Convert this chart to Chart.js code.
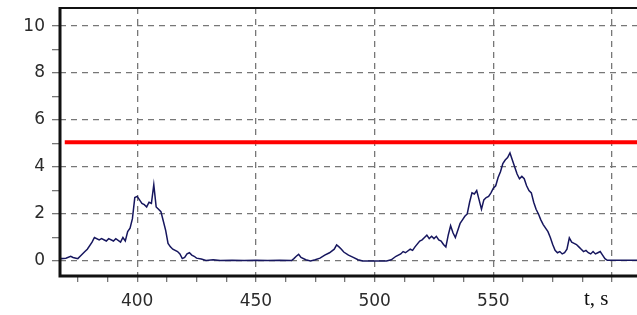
<!DOCTYPE html>
<html>
<head>
<meta charset="utf-8">
<script src="https://cdn.jsdelivr.net/npm/chart.js@4/dist/chart.umd.min.js"></script>
<style>
  html, body { margin: 0; padding: 0; background: #fff; }
  #wrap { width: 637px; height: 315px; }
</style>
</head>
<body>
<div id="wrap"><canvas id="grafica" width="637" height="315"></canvas></div>
<script>
// tiempo (s) y valores
var tiempos = [367, 368, 370, 372, 373, 375, 376, 378, 379, 381, 382, 384, 385, 387, 388, 390, 391, 393, 394, 395,
  396, 397, 398, 399, 400, 401, 402, 403, 404, 405, 406, 407, 408, 409, 410, 411, 412, 413, 414, 415,
  417, 418, 419, 420, 421, 422, 423, 424, 425, 427, 429, 432, 435, 440, 445, 450, 455, 460, 465, 466,
  467, 468, 469, 471, 473, 475, 477, 479, 481, 483, 484, 485, 486, 487, 489, 491, 493, 495, 500, 505,
  507, 509, 511, 512, 513, 515, 516, 517, 519, 520, 521, 522, 523, 524, 525, 526, 527, 528, 529, 530,
  531, 532, 533, 534, 535, 536, 537, 538, 539, 540, 541, 542, 543, 544, 545, 546, 547, 548, 549, 550,
  551, 552, 553, 554, 555, 556, 557, 558, 559, 560, 561, 562, 563, 564, 565, 566, 567, 568, 569, 570,
  571, 572, 573, 574, 575, 576, 577, 578, 579, 580, 581, 582, 583, 584, 585, 586, 587, 588, 589, 590,
  591, 592, 593, 594, 595, 596, 597, 598, 600, 605, 611];
var valores = [0.15, 0.1, 0.12, 0.2, 0.15, 0.1, 0.2, 0.4, 0.5, 0.8, 1.0, 0.9, 0.95, 0.85, 0.95, 0.85, 0.95, 0.8, 1.0, 0.85,
  1.25, 1.4, 1.8, 2.7, 2.75, 2.6, 2.45, 2.4, 2.3, 2.5, 2.45, 3.25, 2.3, 2.2, 2.1, 1.7, 1.3, 0.75, 0.6, 0.5,
  0.4, 0.3, 0.1, 0.15, 0.3, 0.35, 0.25, 0.2, 0.12, 0.08, 0.02, 0.05, 0.02, 0.03, 0.02, 0.03, 0.02, 0.03, 0.02, 0.1,
  0.2, 0.28, 0.15, 0.05, 0.0, 0.05, 0.12, 0.25, 0.35, 0.5, 0.68, 0.6, 0.5, 0.38, 0.25, 0.15, 0.05, 0.0, 0.0, 0.0,
  0.05, 0.2, 0.3, 0.4, 0.35, 0.5, 0.45, 0.6, 0.85, 0.9, 1.0, 1.1, 0.95, 1.05, 0.95, 1.05, 0.9, 0.85, 0.7, 0.6,
  1.1, 1.5, 1.2, 1.0, 1.3, 1.6, 1.75, 1.9, 2.0, 2.5, 2.9, 2.85, 3.0, 2.6, 2.2, 2.6, 2.7, 2.75, 2.9, 3.1,
  3.2, 3.55, 3.8, 4.15, 4.3, 4.4, 4.6, 4.3, 4.0, 3.7, 3.5, 3.6, 3.5, 3.2, 3.0, 2.9, 2.5, 2.2, 2.0, 1.75,
  1.55, 1.4, 1.25, 1.0, 0.7, 0.45, 0.35, 0.4, 0.3, 0.35, 0.5, 0.98, 0.8, 0.75, 0.7, 0.6, 0.5, 0.4, 0.45, 0.35,
  0.3, 0.4, 0.3, 0.35, 0.4, 0.25, 0.1, 0.03, 0.03, 0.03, 0.03];

// umbral (linea roja)
var umbralT = [369.5, 611];
var umbralV = [5.05, 5.05];

// ticks
var ticksX = [375, 387.5, 400, 412.5, 425, 437.5, 450, 462.5, 475, 487.5, 500, 512.5, 525, 537.5, 550, 562.5, 575, 587.5, 600];
var etiquetasX = [400, 450, 500, 550];
var ticksY = [0, 1, 2, 3, 4, 5, 6, 7, 8, 9, 10];
var etiquetasY = [0, 2, 4, 6, 8, 10];

var serie = tiempos.map(function(t, i) { return { x: t, y: valores[i] }; });
var umbral = umbralT.map(function(t, i) { return { x: t, y: umbralV[i] }; });

var gris = '#777';

// marco y texto "t, s"
var marco = {
  id: 'marco',
  afterDraw: function(chart) {
    var a = chart.chartArea, c = chart.ctx;
    c.save();
    c.strokeStyle = '#111';
    c.lineWidth = 2;
    c.beginPath(); c.moveTo(a.left, a.top); c.lineTo(a.right, a.top); c.stroke();
    c.lineWidth = 3;
    c.beginPath(); c.moveTo(a.left, a.top - 1); c.lineTo(a.left, a.bottom); c.lineTo(a.right, a.bottom); c.stroke();
    c.fillStyle = '#111';
    c.font = '21px "Liberation Serif", serif';
    c.textBaseline = 'alphabetic';
    c.fillText('t, s', 584, 305);
    c.restore();
  }
};

new Chart(document.getElementById('grafica').getContext('2d'), {
  type: 'line',
  data: {
    datasets: [{
      data: umbral,
      borderColor: '#ff0000',
      borderWidth: 4,
      pointRadius: 0,
      order: 0
    }, {
      data: serie,
      borderColor: '#16165e',
      borderWidth: 1.5,
      pointRadius: 0,
      tension: 0,
      order: 1
    }]
  },
  options: {
    responsive: false,
    animation: false,
    layout: { padding: { top: 8, right: 0, left: 0, bottom: 0 } },
    plugins: { legend: { display: false }, tooltip: { enabled: false } },
    scales: {
      x: {
        type: 'linear',
        min: 367.5,
        max: 610.5,
        afterBuildTicks: function(s) { s.ticks = ticksX.map(function(v) { return { value: v }; }); },
        afterFit: function(s) { s.height = 39; s.paddingLeft = 0; s.paddingRight = 0; },
        border: { display: false, dash: [6, 5] },
        grid: {
          color: function(ctx) { return ctx.tick && ctx.tick.value % 50 === 0 ? gris : 'rgba(0,0,0,0)'; },
          tickColor: gris,
          lineWidth: 1.3,
          tickLength: 6
        },
        ticks: {
          autoSkip: false,
          maxRotation: 0,
          padding: 9,
          color: '#2b2b2b',
          font: { family: '"DejaVu Sans", sans-serif', size: 17 },
          callback: function(v) { return etiquetasX.indexOf(v) >= 0 ? String(v) : ''; }
        }
      },
      y: {
        min: -0.64,
        max: 10.77,
        afterBuildTicks: function(s) { s.ticks = ticksY.map(function(v) { return { value: v }; }); },
        afterFit: function(s) { s.width = 60; s.paddingTop = 0; s.paddingBottom = 0; },
        border: { display: false, dash: [6, 5] },
        grid: {
          color: function(ctx) { return ctx.tick && ctx.tick.value % 2 === 0 ? gris : 'rgba(0,0,0,0)'; },
          tickColor: gris,
          lineWidth: 1.3,
          tickLength: 8
        },
        ticks: {
          autoSkip: false,
          padding: 7,
          color: '#2b2b2b',
          font: { family: '"DejaVu Sans", sans-serif', size: 17 },
          callback: function(v) { return etiquetasY.indexOf(v) >= 0 ? String(v) : ''; }
        }
      }
    }
  },
  plugins: [marco]
});
</script>
</body>
</html>
